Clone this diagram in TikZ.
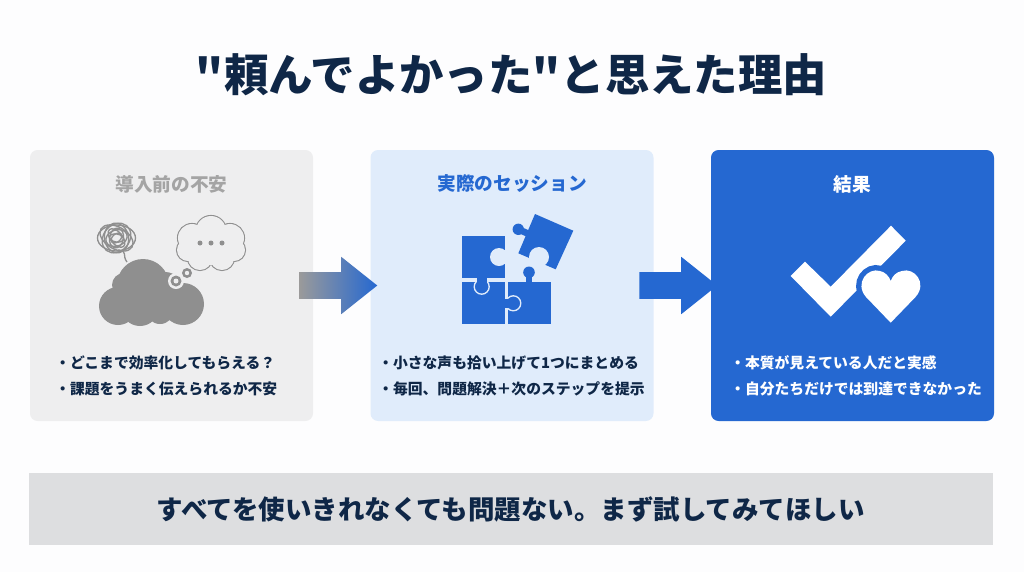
\documentclass[tikz,border=0pt]{standalone}
\usepackage{fontspec}
\setmainfont{Noto Sans CJK JP}
\newfontfamily\titlefont{Noto Sans CJK JP}
\usetikzlibrary{shapes.arrows}
\definecolor{color_page}{HTML}{fdfdfe}
\definecolor{color_navy}{HTML}{0f2747}
\definecolor{color_gray_panel}{HTML}{eeeeef}
\definecolor{color_gray_text}{HTML}{a4a4a4}
\definecolor{color_gray_icon}{HTML}{8f8f8f}
\definecolor{color_blue_panel}{HTML}{e0ecfb}
\definecolor{color_blue}{HTML}{2568d1}
\definecolor{color_bar}{HTML}{dddee0}
\tikzset{
    panel/.style={rectangle, rounded corners=2mm, minimum width=212.25pt, minimum height=203.25pt, inner sep=0pt},
    heading/.style={inner sep=0pt, font=\fontsize{14}{14}\selectfont\bfseries},
    bullet/.style={anchor=west, inner sep=0pt, font=\fontsize{11.1}{11.1}\selectfont\bfseries},
    blockarrow/.style={single arrow, anchor=tail, inner sep=0pt, text height=19.5pt, text depth=0pt, text width=0pt,
        minimum height=58.5pt, single arrow head extend=11.6pt, single arrow tip angle=77},
    scribble/.style={draw=color_gray_icon, line width=1pt},
}
\begin{document}
\begin{tikzpicture}[x=0.75pt, y=-0.75pt]
    \fill[color_page] (0,0) rectangle (1024,572);
    \node[inner sep=0pt, text=color_navy, font=\fontsize{33.3}{33.3}\selectfont\titlefont\bfseries] (title) at (511.5,75) {"頼んでよかった"と思えた理由};
    % panels
    \node[panel, fill=color_gray_panel] (panel_before) at (171.5,285.5) {};
    \node[panel, fill=color_blue_panel] (panel_session) at (512,285.5) {};
    \node[panel, fill=color_blue] (panel_result) at (852.5,285.5) {};
    \node[heading, text=color_gray_text] (head_before) at (171.5,184) {導入前の不安};
    \node[heading, text=color_blue] (head_session) at (512,184) {実際のセッション};
    \node[heading, text=white] (head_result) at (852.5,184) {結果};
    % grey cloud
    \foreach \cx/\cy/\cr in {143/285/26, 118/306/19, 124/285/12, 140/307/19, 183/304/21, 165/290/18, 160/310/14}
        \fill[color_gray_icon] (\cx,\cy) circle (\cr);
    \fill[color_gray_panel] (176,281) circle (8);
    \fill[color_gray_panel] (187,273) circle (7);
    \fill[color_gray_icon] (176,281) circle (5.5);
    \fill[color_gray_icon] (187,273) circle (5);
    \fill[color_gray_panel] (176,281) circle (2.5);
    \fill[color_gray_panel] (187,273) circle (2.2);
    % thought bubble
    \foreach \cx/\cy/\cr in {211/231/15, 192/238/14, 230/238/14, 188/250/11, 234/250/11, 200/258/12, 222/258/12}
        \draw[color_gray_icon, line width=1.6pt] (\cx,\cy) circle (\cr);
    \foreach \cx/\cy/\cr in {211/231/15, 192/238/14, 230/238/14, 188/250/11, 234/250/11, 200/258/12, 222/258/12, 211/245/20}
        \fill[color_gray_panel] (\cx,\cy) circle (\cr);
    \foreach \cx in {200,211,222}
        \fill[color_gray_icon] (\cx,243) circle (2.5);
    % scribble
    \foreach \a/\rx/\ry in {0/19/13, 50/16/13, 100/15/12, 150/18/11, 20/11/8, 80/10/7, 130/11/6, 170/7/4, 40/6/4}
        \draw[scribble, rotate around={\a:(116.5,238)}] (116.5,238) ellipse [x radius=\rx, y radius=\ry];
    \draw[scribble] (118,250) .. controls (128,250) and (122,256) .. (127,262);
    % puzzle
    \fill[color_blue] (462,282) rectangle (505,324);
    \fill[color_blue] (508,282) rectangle (550.5,324);
    \draw[color_blue_panel, fill=color_blue, line width=1pt] (481.7,286.7) circle (7.5);
    \draw[color_blue_panel, fill=color_blue, line width=1pt] (513.3,303.3) circle (7.5);
    \fill[color_blue] (503,298.5) rectangle (510,308);
    \fill[color_blue] (477,278) rectangle (486.5,285);
    \fill[color_blue] (462,236) rectangle (505,278);
    \fill[color_blue_panel] (499,257) circle (9);
    \fill[color_blue_panel] (505,245) rectangle (512,270);
    \fill[color_blue] (535,214) -- (573.3,230.7) -- (555.7,269.3) -- (518.3,253.3) -- cycle;
    \fill[color_blue] (518.3,229.3) circle (5.7);
    \draw[color_blue, line width=5pt] (519,229.6) -- (528,233.6);
    \fill[color_blue_panel] (539,257) circle (10);
    \fill[color_blue] (529,272.3) circle (5.8);
    \fill[color_blue] (525.7,272) rectangle (532.3,283);
    % check and heart
    \fill[white] (790.7,276) -- (805,261.7) -- (830.7,286.7) -- (891,225.7) -- (905.7,240.7) -- (830.7,316.7) -- cycle;
    \path[fill=white, draw=color_blue, line width=8pt] (890.7,322.7) -- (866,297) .. controls (854,283) and (868,267) .. (880,271) .. controls (885,272) and (889,276) .. (890.7,281) .. controls (892.5,276) and (896,272) .. (902,271) .. controls (914,267) and (928,283) .. (915.5,297) -- cycle;
    \fill[white] (890.7,322.7) -- (866,297) .. controls (854,283) and (868,267) .. (880,271) .. controls (885,272) and (889,276) .. (890.7,281) .. controls (892.5,276) and (896,272) .. (902,271) .. controls (914,267) and (928,283) .. (915.5,297) -- cycle;
    % bullets
    \node[bullet, text=color_navy] (before_a) at (55,362.5) {・どこまで効率化してもらえる？};
    \node[bullet, text=color_navy] (before_b) at (55,388.5) {・課題をうまく伝えられるか不安};
    \node[bullet, text=color_navy] (session_a) at (378,362.5) {・小さな声も拾い上げて1つにまとめる};
    \node[bullet, text=color_navy] (session_b) at (378,388.5) {・毎回、問題解決＋次のステップを提示};
    \node[bullet, text=white] (result_a) at (730,362.5) {・本質が見えている人だと実感};
    \node[bullet, text=white] (result_b) at (730,388.5) {・自分たちだけでは到達できなかった};
    % arrows
    \node[blockarrow, left color=color_gray_icon!90!white, right color=color_blue] (arrow_a) at (299,285.5) {};
    \node[blockarrow, fill=color_blue] (arrow_b) at (639,285.5) {};
    % bottom bar
    \node[rectangle, fill=color_bar, minimum width=723pt, minimum height=54pt, inner sep=0pt] (bar) at (511,509) {};
    \node[inner sep=0pt, text=color_navy, font=\fontsize{19.85}{19.85}\selectfont\bfseries] (bar_text) at (510.5,509) {すべてを使いきれなくても問題ない。まず試してみてほしい};
\end{tikzpicture}
\end{document}
